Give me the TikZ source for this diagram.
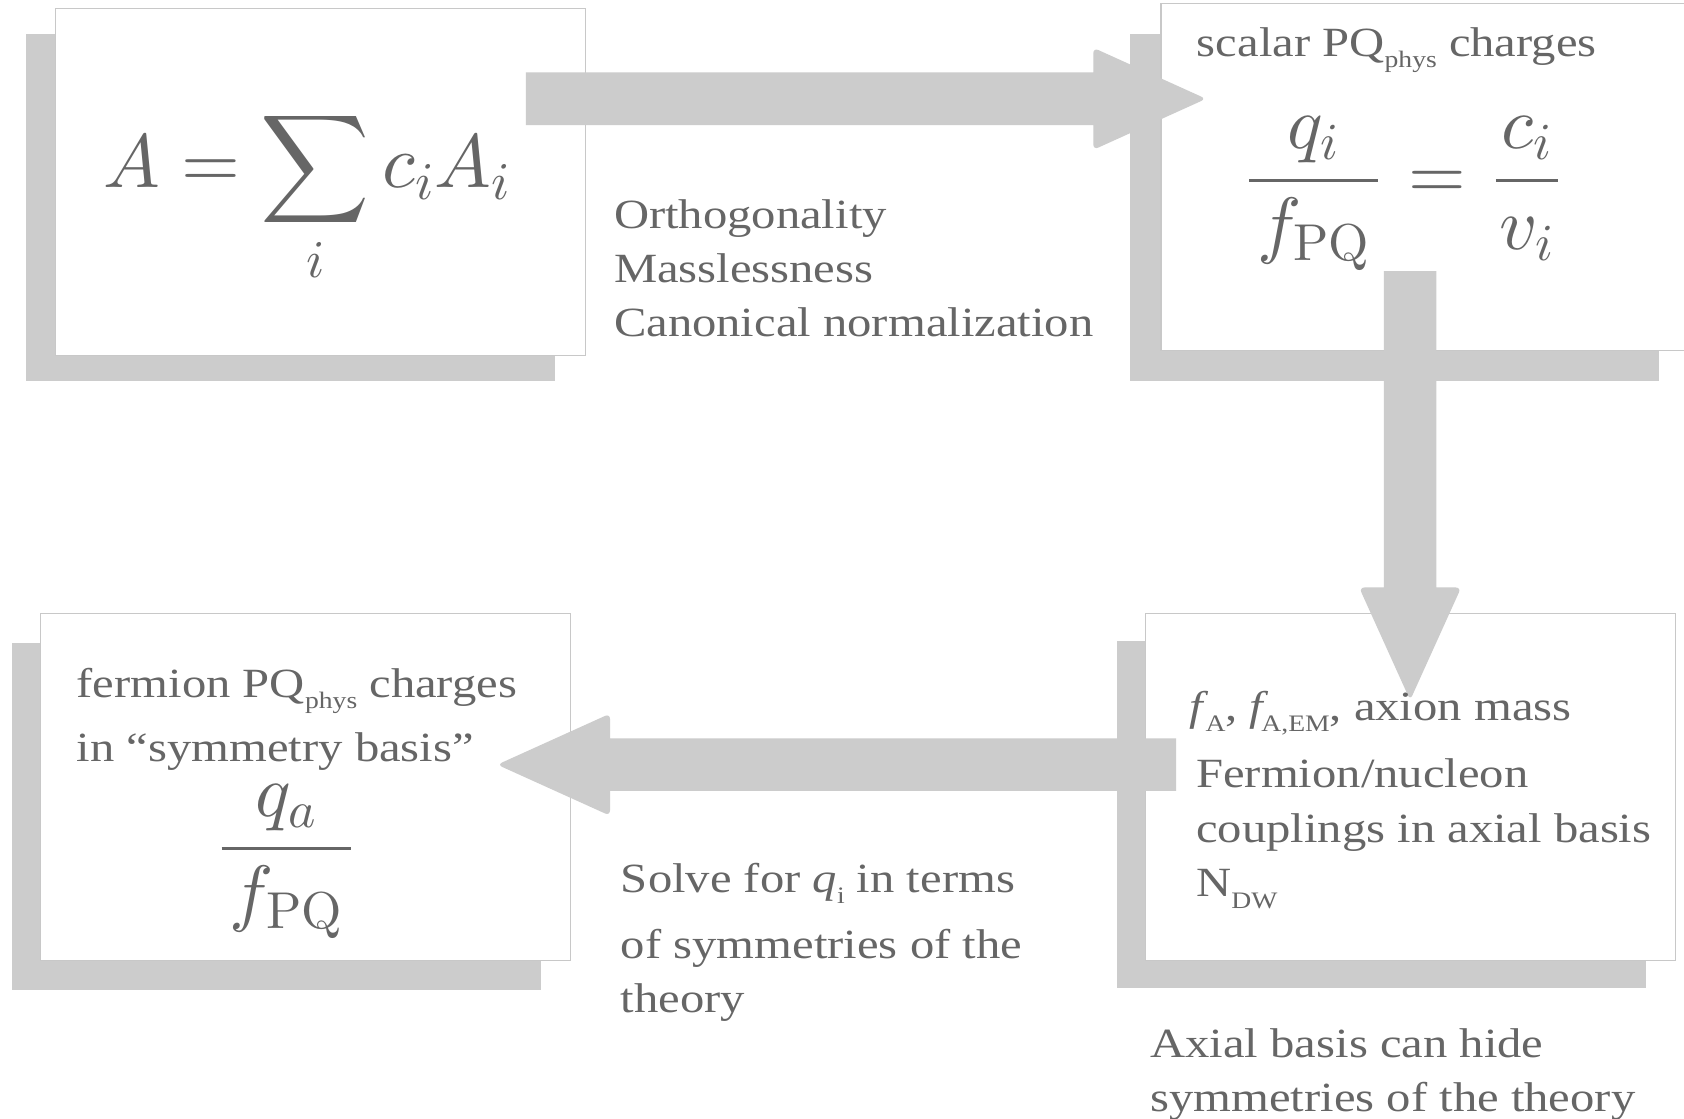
\documentclass[tikz,border=0pt]{standalone}
\usepackage[no-math]{fontspec}
\setmainfont[FakeStretch=1.17]{Liberation Serif}
\DeclareFontShape{OT1}{cmr}{m}{n}{<->cmr10}{}
\DeclareFontShape{OML}{cmm}{m}{it}{<->cmmi10}{}
\DeclareFontShape{OMS}{cmsy}{m}{n}{<->cmsy10}{}
\DeclareFontShape{OMX}{cmex}{m}{n}{<->cmex10}{}
\usetikzlibrary{calc}
\definecolor{txtc}{HTML}{666666}
\definecolor{shadec}{HTML}{CCCCCC}
\definecolor{edgec}{HTML}{C8C8C8}
\newcommand\mysub[1]{\raisebox{-10.5pt}{\fontsize{22}{22}\selectfont #1}}
\newcommand\txtsize{\fontsize{38.7}{51}\selectfont}
\newcommand\mathsize{\fontsize{69}{80}\selectfont}
\newcommand\bigmathsize{\fontsize{70.5}{80}\selectfont}
\begin{document}
\begin{tikzpicture}[x=1pt,y=-1pt,
  shadowbox/.style={fill=shadec, draw=none, rectangle, minimum width=493pt, minimum height=323pt, anchor=north west, inner sep=0pt, outer sep=0pt},
  whitebox/.style={fill=white, draw=edgec, line width=1pt, rectangle, minimum width=493pt, minimum height=323pt, anchor=north west, inner sep=0pt, outer sep=0pt},
  bigarrow/.style={fill=shadec, draw=none},
  txt/.style={text=txtc, font=\txtsize, inner sep=0pt, anchor=base west},
  eqn/.style={text=txtc, font=\mathsize, inner sep=0pt, anchor=base}]
\useasboundingbox (0,0) rectangle (1568,1041);
\fill[white] (0,0) rectangle (1568,1041);
% shadows
\node[shadowbox] (b1s) at (24,32) {};
\node[shadowbox] (b2s) at (1052,32) {};
\node[shadowbox] (b3s) at (1040,597) {};
\node[shadowbox] (b4s) at (11,599) {};
% boxes
\node[whitebox] (b1) at (52,8) {};
\node[whitebox] (b2) at (1081,3) {};
\node[whitebox] (b3) at (1067,571) {};
\node[whitebox] (b4) at (38,571) {};
% arrow end points
\coordinate (a1s) at (489.7,92);
\coordinate (a1e) at (1123,92);
\coordinate (a2s) at (1313,252.4);
\coordinate (a2e) at (1313,652);
\coordinate (a3s) at (1095,712);
\coordinate (a3e) at (463,712);
% arrows
\fill[bigarrow] ($(a1s)+(0,-24.5)$) -- ($(a1e)+(-105,-24.5)$) [rounded corners=5pt] -- ($(a1e)+(-105,-47.5)$) -- (a1e) -- ($(a1e)+(-105,47.5)$) [sharp corners] -- ($(a1e)+(-105,24.5)$) -- ($(a1s)+(0,24.5)$) -- cycle;
\fill[bigarrow] ($(a2s)+(-24.5,0)$) -- ($(a2e)+(-24.5,-105)$) [rounded corners=5pt] -- ($(a2e)+(-47.5,-105)$) -- (a2e) -- ($(a2e)+(47.5,-105)$) [sharp corners] -- ($(a2e)+(24.5,-105)$) -- ($(a2s)+(24.5,0)$) -- cycle;
\fill[bigarrow] ($(a3s)+(0,-24.5)$) -- ($(a3e)+(105,-24.5)$) [rounded corners=5pt] -- ($(a3e)+(105,-47.5)$) -- (a3e) -- ($(a3e)+(105,47.5)$) [sharp corners] -- ($(a3e)+(105,24.5)$) -- ($(a3s)+(0,24.5)$) -- cycle;
% equations
\node[eqn, font=\bigmathsize] (e1) at (285.5,175) {$\displaystyle A=\sum_i c_iA_i$};
\node[eqn] (e2) at (1307,185) {$\displaystyle \frac{\mkern2mu q_i\mkern2mu}{\mkern2mu f_{\mathrm{PQ}}\mkern2mu}\mkern2mu=\mkern2mu\frac{\mkern1mu c_i\mkern1mu}{\mkern1mu v_i\mkern1mu}$};
\node[eqn] (e3) at (266.4,807) {$\displaystyle \frac{\mkern2mu q_a\mkern2mu}{\mkern2mu f_{\mathrm{PQ}}\mkern2mu}$};
% texts
\node[txt] (t1a) at (571.5,212.5) {Orthogonality};
\node[txt] (t1b) at (571.5,263) {Masslessness};
\node[txt] (t1c) at (571.5,313.5) {Canonical normalization};
\node[txt] (t2) at (1114.3,52.8) {scalar PQ\mysub{phys} charges};
\node[txt] (t3a) at (1107.5,671) {\textit{f}\kern-3pt\mysub{A}, \textit{f}\kern-7pt\mysub{A,EM}, axion mass};
\node[txt] (t3b) at (1113.6,733) {Fermion/nucleon};
\node[txt] (t3c) at (1113.6,784.5) {couplings in axial basis};
\node[txt] (t3d) at (1113.6,835) {N\mysub{DW}};
\node[txt] (t4a) at (71.3,649) {fermion PQ\mysub{phys} charges};
\node[txt] (t4b) at (71.3,709.5) {in “symmetry basis”};
\node[txt] (t5a) at (578,831) {Solve for \textit{q}\mysub{i} in terms};
\node[txt] (t5b) at (578,892) {of symmetries of the};
\node[txt] (t5c) at (578,943) {theory};
\node[txt] (t6a) at (1071,984.5) {Axial basis can hide};
\node[txt] (t6b) at (1071,1034.5) {symmetries of the theory};
\end{tikzpicture}
\end{document}
